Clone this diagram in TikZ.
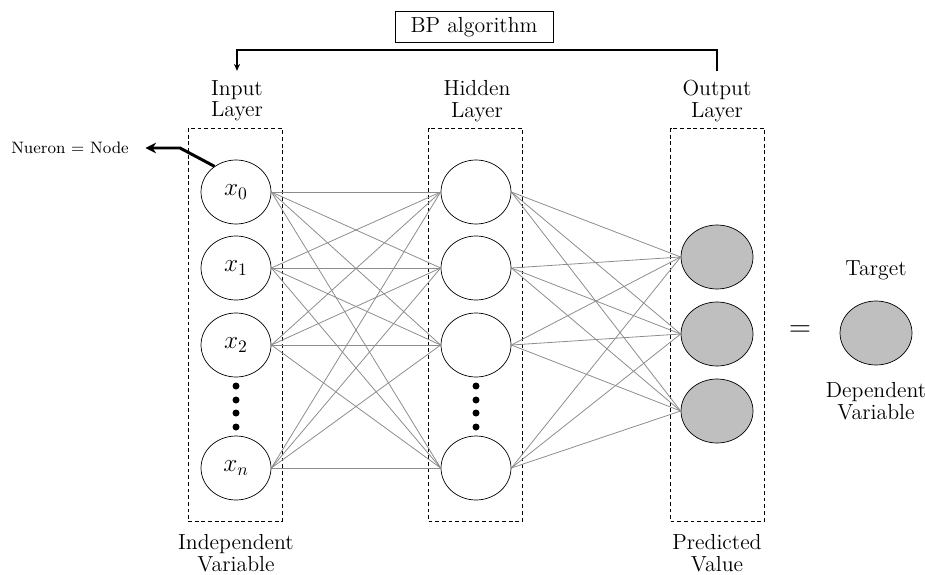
\documentclass[tikz,border=0pt]{standalone}
\usepackage{tikz}
\usetikzlibrary{shapes.geometric, arrows.meta, positioning}

\begin{document}
\begin{tikzpicture}[
    x=0.02cm, y=-0.02cm,
    neuron/.style={
        ellipse, draw, fill=white,
        minimum width=1.4cm, minimum height=1.28cm,
        inner sep=0pt, font=\Large
    },
    outneuron/.style={neuron, fill=black!25, minimum width=1.44cm},
    layerbox/.style={
        draw, dash pattern=on 2.2pt off 1.6pt,
        minimum width=1.88cm, minimum height=7.86cm
    },
    txt/.style={align=center, font=\fontsize{12.4}{12.2}\selectfont},
    link/.style={draw=black!45, line width=0.45pt},
    bparrow/.style={-{Stealth[length=4pt,width=3.5pt]}, line width=1.2pt},
    nodearrow/.style={-{Stealth[length=6pt,width=6pt]}, line width=1.7pt}
]
    \useasboundingbox (0,0) rectangle (925,574);

    \node[draw, txt, minimum width=3.16cm, minimum height=0.5cm] (bp) at (474,27) {BP algorithm};

    \node[txt] (inlbl) at (237,101) {Input\\Layer};
    \node[txt] (hidlbl) at (477,101) {Hidden\\Layer};
    \node[txt] (outlbl) at (717,101) {Output\\Layer};

    \node[layerbox] (inbox) at (235,324.5) {};
    \node[layerbox] (hidbox) at (475.5,324.5) {};
    \node[layerbox] (outbox) at (717.5,324.5) {};

    \node[neuron] (in0) at (236,192) {$x_0$};
    \node[neuron] (in1) at (236,268) {$x_1$};
    \node[neuron] (in2) at (236,345) {$x_2$};
    \node[neuron] (inn) at (236,468) {$x_n$};

    \node[neuron] (hid0) at (476,192) {};
    \node[neuron] (hid1) at (476,268) {};
    \node[neuron] (hid2) at (476,345) {};
    \node[neuron] (hidn) at (476,468) {};

    \node[outneuron] (out0) at (717,257) {};
    \node[outneuron] (out1) at (717,334) {};
    \node[outneuron] (out2) at (717,411) {};

    \foreach \y in {386,400,413,427} {
        \fill (236,\y) circle[radius=0.07cm];
        \fill (476,\y) circle[radius=0.07cm];
    }

    \foreach \a in {in0,in1,in2,inn}
        \foreach \b in {hid0,hid1,hid2,hidn}
            \draw[link] (\a.east) -- (\b.west);
    \foreach \a in {hid0,hid1,hid2,hidn}
        \foreach \b in {out0,out1,out2}
            \draw[link] (\a.east) -- (\b.west);

    \node[font=\LARGE] (eq) at (800,331) {$=$};
    \node[outneuron] (target) at (876,333) {};
    \node[txt] (targetlbl) at (876,270) {Target};
    \node[txt] (deplbl) at (876,401) {Dependent\\Variable};

    \node[txt] (indeplbl) at (236,553) {Independent\\Variable};
    \node[txt] (predlbl) at (717,553) {Predicted\\Value};

    \node[font=\fontsize{9.4}{11}\selectfont] (nueron) at (70,148) {Nueron = Node};

    \draw[bparrow] ([yshift=2pt]outlbl.north) -- ++(0,-21) -| ([yshift=2pt]inlbl.north);
    \draw[nodearrow] (in0.130) -- (180,148) -- ([xshift=6pt]nueron.east);
\end{tikzpicture}
\end{document}
